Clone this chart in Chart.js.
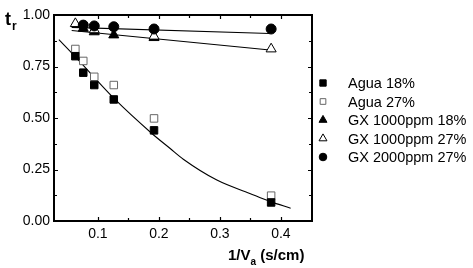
<!DOCTYPE html>
<html>
<head>
<meta charset="utf-8">
<script src="https://cdn.jsdelivr.net/npm/chart.js@4/dist/chart.umd.min.js"></script>
<style>
  body { margin: 0; background: #fff; }
  canvas { display: block; }
</style>
</head>
<body>
<canvas id="chart" width="473" height="268"></canvas>
<script>
// 1/Va (s/cm) for every measured series
const invVelocity = [0.063, 0.076, 0.094, 0.126, 0.192, 0.384];

// t_r values (null = point hidden/not present)
const agua18 = [0.80, 0.72, 0.66, 0.59, 0.44, 0.09];
const agua27 = [0.835, 0.777, 0.70, 0.66, 0.498, 0.123];
const gx1000_18 = [null, 0.935, 0.918, 0.903, 0.89, null];
const gx1000_27 = [0.958, null, 0.928, null, 0.897, 0.835];
const gx2000_27 = [null, 0.951, 0.947, 0.943, 0.932, 0.932];

// fitted curves
const fitAguaX = [0.036, 0.062, 0.126, 0.188, 0.218, 0.240, 0.295, 0.349, 0.383, 0.416];
const fitAguaY = [0.880, 0.800, 0.596, 0.426, 0.353, 0.300, 0.199, 0.134, 0.094, 0.062];
const fitGxX = [0.057, 0.382];
const fitGx2000Y = [0.940, 0.910];
const fitGx27Y = [0.925, 0.830];

const seriesLabels = ["Agua 18%", "Agua 27%", "GX 1000ppm 18%", "GX 1000ppm 27%", "GX 2000ppm 27%"];

const FONT = "'Liberation Sans', Arial, sans-serif";

function pairs(xs, ys) {
  const out = [];
  xs.forEach((x, i) => {
    if (ys[i] !== null) out.push({ x: x, y: ys[i] });
  });
  return out;
}

function isMultiple(v, step) {
  const r = v / step;
  return Math.abs(r - Math.round(r)) < 1e-6;
}

//Frame with inward ticks on all four sides
const framePlugin = {
  id: "frame",
  afterDatasetsDraw(chart) {
    const { ctx, chartArea: a, scales } = chart;
    ctx.save();
    ctx.strokeStyle = "#000";
    ctx.lineWidth = 1.2;
    scales.x.ticks.forEach((t) => {
      if (!isMultiple(t.value, 0.05)) return;
      const px = Math.round(scales.x.getPixelForValue(t.value)) + 0.5;
      const len = isMultiple(t.value, 0.1) ? 4 : 3;
      ctx.beginPath();
      ctx.moveTo(px, a.bottom);
      ctx.lineTo(px, a.bottom - len);
      ctx.moveTo(px, a.top);
      ctx.lineTo(px, a.top + len);
      ctx.stroke();
    });
    scales.y.ticks.forEach((t) => {
      if (!isMultiple(t.value, 0.125)) return;
      const py = Math.round(scales.y.getPixelForValue(t.value)) + 0.5;
      const len = isMultiple(t.value, 0.25) ? 4 : 3;
      ctx.beginPath();
      ctx.moveTo(a.left, py);
      ctx.lineTo(a.left + len, py);
      ctx.moveTo(a.right, py);
      ctx.lineTo(a.right - len, py);
      ctx.stroke();
    });
    ctx.lineWidth = 2;
    ctx.strokeRect(a.left, a.top, a.right - a.left, a.bottom - a.top);
    ctx.restore();
  },
};

//Legend and axis titles
const textPlugin = {
  id: "texts",
  afterDraw(chart) {
    const ctx = chart.ctx;
    ctx.save();

    // legend
    const markers = chart.data.datasets.filter((d) => d.legendIndex !== undefined);
    markers.forEach((d) => {
      const y = 83 + d.legendIndex * 18.5;
      ctx.fillStyle = d.backgroundColor;
      ctx.strokeStyle = d.borderColor;
      ctx.lineWidth = d.borderWidth;
      Chart.helpers.drawPoint(ctx, {
        pointStyle: d.pointStyle,
        radius: d.legendRadius,
        borderWidth: d.borderWidth,
      }, 323, y);
      ctx.fillStyle = "#000";
      ctx.font = "14.5px " + FONT;
      ctx.textBaseline = "middle";
      ctx.textAlign = "left";
      ctx.fillText(d.label, 348, y + 1);
    });

    // x title: 1/Va (s/cm)
    ctx.fillStyle = "#000";
    ctx.textBaseline = "alphabetic";
    ctx.font = "bold 15px " + FONT;
    let x = 228;
    ctx.fillText("1/V", x, 260);
    x += ctx.measureText("1/V").width;
    ctx.font = "bold 10px " + FONT;
    ctx.fillText("a", x, 265);
    x += ctx.measureText("a").width;
    ctx.font = "bold 15px " + FONT;
    ctx.fillText(" (s/cm)", x, 260);

    // y title: t_r
    ctx.font = "bold 18px " + FONT;
    ctx.fillText("t", 5, 25);
    ctx.font = "bold 12px " + FONT;
    ctx.fillText("r", 12, 30);
    ctx.restore();
  },
};

const ctxChart = document.getElementById("chart").getContext("2d");

const chart = new Chart(ctxChart, {
  type: "scatter",
  data: {
    datasets: [
      {
        label: seriesLabels[4],
        legendIndex: 4,
        data: pairs(invVelocity, gx2000_27),
        pointStyle: "circle",
        radius: 5,
        legendRadius: 3.8,
        backgroundColor: "#000",
        borderColor: "#000",
        borderWidth: 1,
        order: 1,
      },
      {
        label: seriesLabels[3],
        legendIndex: 3,
        data: pairs(invVelocity, gx1000_27),
        pointStyle: "triangle",
        radius: 5.8,
        legendRadius: 4.6,
        backgroundColor: "#fff",
        borderColor: "#000",
        borderWidth: 1,
        order: 2,
      },
      {
        label: seriesLabels[2],
        legendIndex: 2,
        data: pairs(invVelocity, gx1000_18),
        pointStyle: "triangle",
        radius: 5.8,
        legendRadius: 4.6,
        backgroundColor: "#000",
        borderColor: "#000",
        borderWidth: 1,
        order: 3,
      },
      {
        label: seriesLabels[0],
        legendIndex: 0,
        data: pairs(invVelocity, agua18),
        pointStyle: "rect",
        radius: 5.3,
        legendRadius: 4.5,
        backgroundColor: "#000",
        borderColor: "#000",
        borderWidth: 1,
        order: 4,
      },
      {
        label: seriesLabels[1],
        legendIndex: 1,
        data: pairs(invVelocity, agua27),
        pointStyle: "rect",
        radius: 5.3,
        legendRadius: 4,
        backgroundColor: "#fff",
        borderColor: "#666",
        borderWidth: 1,
        order: 5,
      },
      {
        label: "",
        data: pairs(fitAguaX, fitAguaY),
        showLine: true,
        cubicInterpolationMode: "monotone",
        borderColor: "#000",
        borderWidth: 1.1,
        pointRadius: 0,
        order: 10,
      },
      {
        label: "",
        data: pairs(fitGxX, fitGx2000Y),
        showLine: true,
        borderColor: "#000",
        borderWidth: 1.1,
        pointRadius: 0,
        order: 10,
      },
      {
        label: "",
        data: pairs(fitGxX, fitGx27Y),
        showLine: true,
        borderColor: "#000",
        borderWidth: 1.1,
        pointRadius: 0,
        order: 10,
      },
    ],
  },
  options: {
    responsive: false,
    animation: false,
    layout: { padding: { top: 15, right: 161, left: 0, bottom: 0 } },
    plugins: {
      legend: { display: false },
      tooltip: { enabled: false },
    },
    scales: {
      x: {
        type: "linear",
        min: 0.028,
        max: 0.451,
        afterFit: (scale) => { scale.height = 47; },
        grid: { display: false, drawTicks: false },
        border: { display: false },
        ticks: {
          stepSize: 0.05,
          autoSkip: false,
          maxRotation: 0,
          padding: 5,
          color: "#000",
          font: { family: FONT, size: 14 },
          callback: (v) => (isMultiple(v, 0.1) ? (Math.round(v * 10) / 10).toString() : ""),
        },
      },
      y: {
        min: 0,
        max: 1,
        afterFit: (scale) => { scale.width = 54; },
        grid: { display: false, drawTicks: false },
        border: { display: false },
        ticks: {
          stepSize: 0.125,
          autoSkip: false,
          padding: 4,
          color: "#000",
          font: { family: FONT, size: 14 },
          callback: (v) => (isMultiple(v, 0.25) ? v.toFixed(2) : ""),
        },
      },
    },
  },
  plugins: [framePlugin, textPlugin],
});
</script>
</body>
</html>
